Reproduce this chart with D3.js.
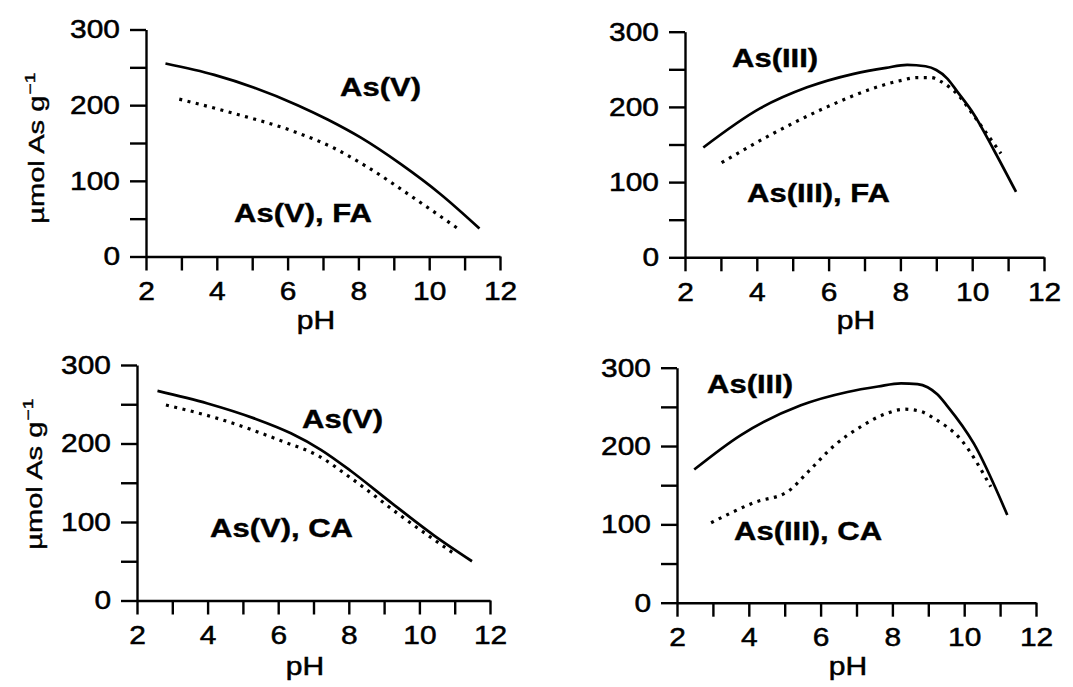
<!DOCTYPE html>
<html><head><meta charset="utf-8">
<script src="https://cdn.jsdelivr.net/npm/d3@7"></script>
<style>
html,body{margin:0;padding:0;background:#fff;}
svg{display:block;font-family:"Liberation Sans",Arial,Helvetica,sans-serif;}
</style></head>
<body>
<svg id="chart" width="1073" height="687"></svg>
<script>
// ---------- data ----------
const xTicks = [2,3,4,5,6,7,8,9,10,11,12];
const xTickLabels = [2,4,6,8,10,12];
const yTicks = [0,50,100,150,200,250,300];
const yTickLabels = [0,100,200,300];

// Panel A: As(V) vs As(V), FA
const pA_solid_pH = [2.55, 3.93, 5.06, 6.28, 7.13, 8.07, 9.2, 10.33, 11.42];
const pA_solid_v  = [255, 240, 223, 200, 181, 157, 122, 82, 37];
const pA_dot_pH   = [2.94, 4.49, 6.19, 7.32, 8.26, 9.67, 10.9];
const pA_dot_v    = [208, 189, 165, 143, 118, 74, 34];

// Panel B: As(III) vs As(III), FA
const pB_solid_pH = [2.51, 4.09, 5.4, 6.7, 7.6, 8.19, 8.7, 9.0, 9.3, 9.59, 10.05, 10.61, 11.22];
const pB_solid_v  = [146, 198, 226, 244, 252, 256, 254, 249, 238, 220, 190, 142, 87];
const pB_dot_pH   = [3.02, 4.47, 5.96, 7.26, 8.0, 8.47, 8.85, 9.12, 9.68, 10.05, 10.8];
const pB_dot_v    = [126, 165, 200, 225, 235, 239, 239, 234, 212, 188, 138];

// Panel C: As(V) vs As(V), CA
const pC_solid_pH = [2.58, 4.0, 5.32, 6.36, 7.21, 8.06, 9.19, 10.41, 11.49];
const pC_solid_v  = [267, 251, 232, 213, 192, 165, 125, 83, 50];
const pC_dot_pH   = [2.82, 4.28, 6.17, 7.11, 8.06, 9.47, 10.97];
const pC_dot_v    = [249, 232, 202, 185, 156, 108, 60];

// Panel D: As(III) vs As(III), CA
const pD_solid_pH = [2.48, 3.78, 5.45, 6.75, 7.6, 8.24, 8.7, 8.98, 9.25, 9.53, 10.27, 11.2];
const pD_solid_v  = [170, 214, 252, 269, 276, 280, 279, 275, 266, 251, 203, 112];
const pD_dot_pH   = [2.95, 4.16, 5.09, 5.65, 6.39, 7.13, 7.8, 8.34, 8.8, 9.17, 9.91, 10.74];
const pD_dot_v    = [102, 128, 142, 167, 201, 225, 241, 247, 244, 235, 208, 148];

const yLabel = "µmol As g";
const yLabelSup = "−1";
const xLabel = "pH";

// ---------- layout ----------
const panels = [
  {x:[146,500], y:[256.5,29.5], solid:[pA_solid_pH,pA_solid_v], dot:[pA_dot_pH,pA_dot_v],
   ylab:{x:44,y:148}, xlab:{x:316,y:329},
   labels:[{t:"As(V)",x:340,y:96},{t:"As(V), FA",x:234,y:222}]},
  {x:[685,1044], y:[257.3,31.7], solid:[pB_solid_pH,pB_solid_v], dot:[pB_dot_pH,pB_dot_v],
   ylab:null, xlab:{x:856,y:329},
   labels:[{t:"As(III)",x:732,y:67},{t:"As(III), FA",x:747,y:202}]},
  {x:[137,490], y:[600.5,365], solid:[pC_solid_pH,pC_solid_v], dot:[pC_dot_pH,pC_dot_v],
   ylab:{x:42,y:474}, xlab:{x:305,y:675},
   labels:[{t:"As(V)",x:302,y:428},{t:"As(V), CA",x:210,y:537}]},
  {x:[677,1036], y:[602.7,367.7], solid:[pD_solid_pH,pD_solid_v], dot:[pD_dot_pH,pD_dot_v],
   ylab:null, xlab:{x:848,y:675},
   labels:[{t:"As(III)",x:707,y:393},{t:"As(III), CA",x:734,y:540}]}
];

const svg = d3.select("#chart");

function stretch(sel, f){
  sel.each(function(){
    const len = this.getComputedTextLength();
    d3.select(this).attr("textLength", len*f).attr("lengthAdjust","spacingAndGlyphs");
  });
}

panels.forEach(p => {
  const xs = d3.scaleLinear().domain([2,12]).range(p.x);
  const ys = d3.scaleLinear().domain([0,300]).range(p.y);
  const g = svg.append("g");

  const xAxis = d3.axisBottom(xs).tickValues(xTicks).tickSizeInner(14).tickSizeOuter(0).tickPadding(11)
    .tickFormat(d => xTickLabels.includes(d) ? d : "");
  const yAxis = d3.axisLeft(ys).tickValues(yTicks).tickSizeInner(16).tickSizeOuter(0).tickPadding(10)
    .tickFormat(d => yTickLabels.includes(d) ? d : "");

  const gx = g.append("g").attr("transform",`translate(0,${p.y[0]})`).call(xAxis);
  const gy = g.append("g").attr("transform",`translate(${p.x[0]},0)`).call(yAxis);
  [gx,gy].forEach(a => {
    a.select(".domain").attr("stroke","#000").attr("stroke-width",2.4);
    a.selectAll(".tick line").attr("stroke","#000").attr("stroke-width",2.4);
    a.selectAll(".tick text").attr("font-size",26).attr("fill","#000")
      .attr("stroke","#000").attr("stroke-width",0.5)
      .attr("font-family","'Liberation Sans',Arial,sans-serif");
  });
  stretch(gx.selectAll(".tick text"), 1.15);
  stretch(gy.selectAll(".tick text"), 1.15);

  const line = d3.line().x(d=>xs(d[0])).y(d=>ys(d[1])).curve(d3.curveMonotoneX);
  const solidPts = d3.zip(p.solid[0], p.solid[1]);
  const dotPts = d3.zip(p.dot[0], p.dot[1]);
  g.append("path").attr("d", line(solidPts)).attr("fill","none").attr("stroke","#000")
    .attr("stroke-width",2.7);
  g.append("path").attr("d", line(dotPts)).attr("fill","none").attr("stroke","#000")
    .attr("stroke-width",3.2).attr("stroke-dasharray","3,5.5");

  p.labels.forEach(l => {
    const t = g.append("text").attr("x",l.x).attr("y",l.y).attr("font-size",25)
      .attr("font-weight","bold").attr("fill","#000")
      .attr("stroke","#000").attr("stroke-width",0.4).text(l.t);
    stretch(t, 1.24);
  });

  const xl = g.append("text").attr("x",p.xlab.x).attr("y",p.xlab.y).attr("text-anchor","middle")
    .attr("font-size",25).attr("fill","#000").attr("stroke","#000").attr("stroke-width",0.5).text(xLabel);
  stretch(xl, 1.2);

  if (p.ylab){
    const yl = g.append("text").attr("transform",`translate(${p.ylab.x},${p.ylab.y}) rotate(-90)`)
      .attr("text-anchor","middle").attr("font-size",22.5).attr("fill","#000")
      .attr("stroke","#000").attr("stroke-width",0.4);
    yl.append("tspan").text(yLabel);
    yl.append("tspan").attr("font-size",15).attr("dy",-9).attr("dx",1).text(yLabelSup);
    stretch(yl, 1.3);
  }
});
</script>
</body></html>
